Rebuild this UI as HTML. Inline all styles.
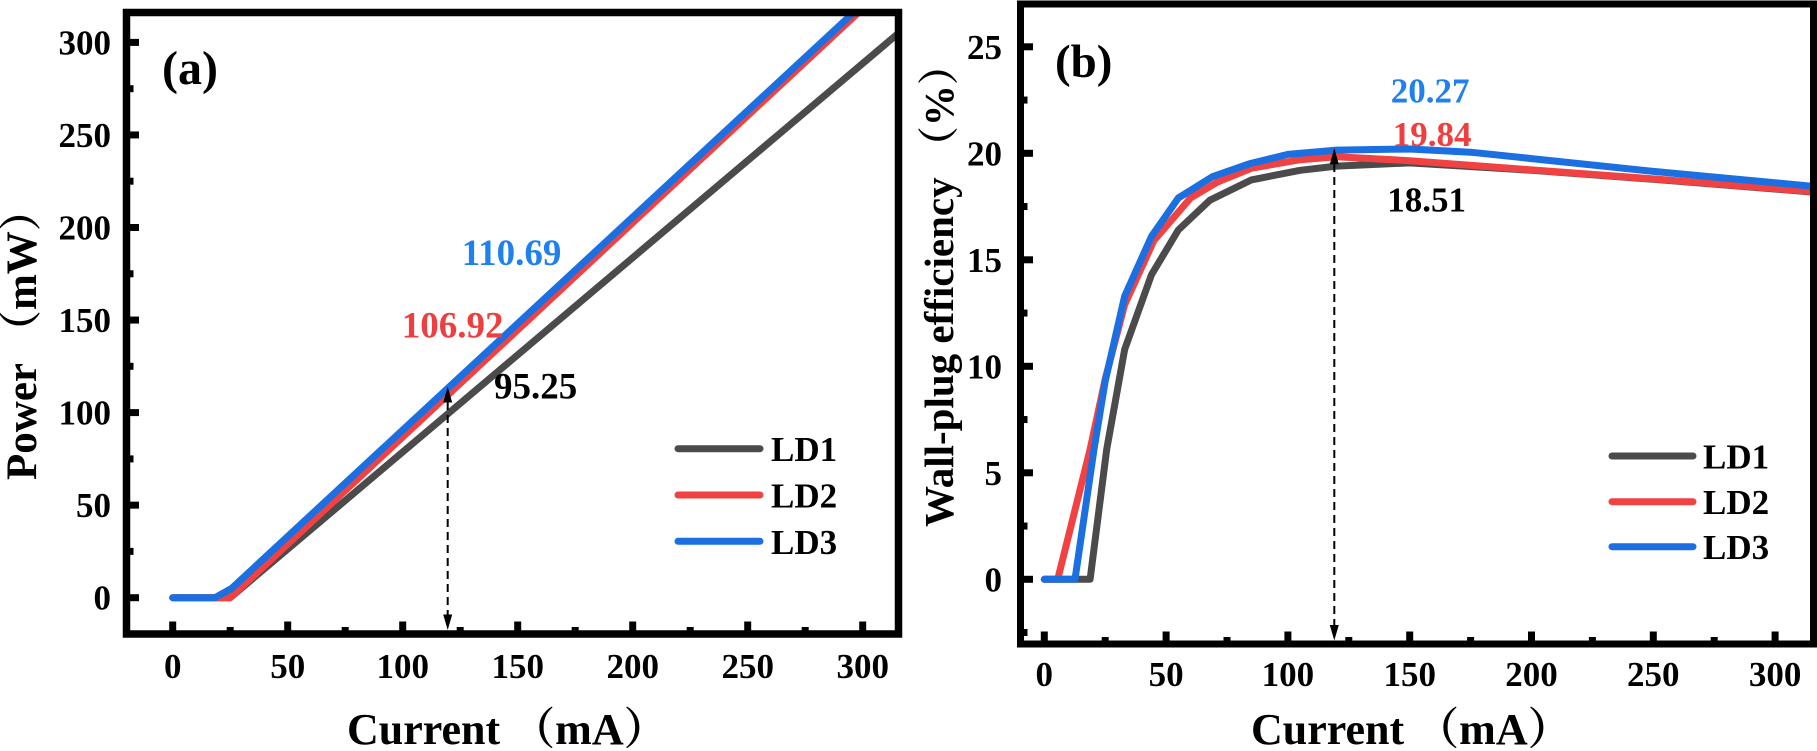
<!DOCTYPE html>
<html>
<head>
<meta charset="utf-8">
<style>
html,body{margin:0;padding:0;background:#fff;}
svg{display:block;}
text{font-family:"Liberation Serif","Noto Serif CJK SC",serif;font-weight:bold;}
.cjk{font-family:"Noto Serif CJK SC","Noto Sans CJK SC",serif;}
</style>
</head>
<body>
<svg width="1817" height="751" viewBox="0 0 1817 751" xmlns="http://www.w3.org/2000/svg">
<defs>
<clipPath id="cl"><rect x="126.5" y="12.5" width="772" height="621.5"/></clipPath>
<clipPath id="cr"><rect x="1020.5" y="4" width="793" height="640"/></clipPath>
</defs>
<rect width="1817" height="751" fill="#fff"/>

<!-- ===== LEFT PANEL ===== -->
<g clip-path="url(#cl)" fill="none" stroke-linejoin="round" stroke-linecap="round" stroke-width="7">
<polyline stroke="#4b4b4b" points="172.7,597.7 230.2,597.7 898.6,33.1"/>
<polyline stroke="#f04242" points="172.7,597.7 230.2,597.7 874.2,-2.2"/>
<polyline stroke="#1b6fe0" points="172.7,597.7 215,597.7 231.6,588.4 874.2,-6.5"/>
</g>

<!-- left arrow -->
<line x1="447.7" y1="402" x2="447.7" y2="615" stroke="#000" stroke-width="2" stroke-dasharray="8 5"/>
<polygon points="447.7,386.7 443.2,402.5 452.2,402.5" fill="#000"/>
<polygon points="447.7,630 443.2,614.5 452.2,614.5" fill="#000"/>

<!-- left frame -->
<rect x="126.5" y="12.5" width="772" height="621.5" fill="none" stroke="#000" stroke-width="7.5"/>
<g stroke="#000" stroke-width="7">
<!-- y majors -->
<line x1="130" y1="597.7" x2="139" y2="597.7"/>
<line x1="130" y1="505.15" x2="139" y2="505.15"/>
<line x1="130" y1="412.6" x2="139" y2="412.6"/>
<line x1="130" y1="320.05" x2="139" y2="320.05"/>
<line x1="130" y1="227.5" x2="139" y2="227.5"/>
<line x1="130" y1="134.95" x2="139" y2="134.95"/>
<line x1="130" y1="42.4" x2="139" y2="42.4"/>
<!-- y minors -->
<line x1="130" y1="551.4" x2="133.5" y2="551.4"/>
<line x1="130" y1="458.9" x2="133.5" y2="458.9"/>
<line x1="130" y1="366.3" x2="133.5" y2="366.3"/>
<line x1="130" y1="273.8" x2="133.5" y2="273.8"/>
<line x1="130" y1="181.2" x2="133.5" y2="181.2"/>
<line x1="130" y1="88.7" x2="133.5" y2="88.7"/>
<!-- x majors -->
<line x1="172.7" y1="630.5" x2="172.7" y2="621.5"/>
<line x1="287.7" y1="630.5" x2="287.7" y2="621.5"/>
<line x1="402.7" y1="630.5" x2="402.7" y2="621.5"/>
<line x1="517.7" y1="630.5" x2="517.7" y2="621.5"/>
<line x1="632.7" y1="630.5" x2="632.7" y2="621.5"/>
<line x1="747.7" y1="630.5" x2="747.7" y2="621.5"/>
<line x1="862.7" y1="630.5" x2="862.7" y2="621.5"/>
<!-- x minors -->
<line x1="230.2" y1="630.5" x2="230.2" y2="627"/>
<line x1="345.2" y1="630.5" x2="345.2" y2="627"/>
<line x1="460.2" y1="630.5" x2="460.2" y2="627"/>
<line x1="575.2" y1="630.5" x2="575.2" y2="627"/>
<line x1="690.2" y1="630.5" x2="690.2" y2="627"/>
<line x1="805.2" y1="630.5" x2="805.2" y2="627"/>
</g>

<g font-size="35" text-anchor="end" fill="#000">
<text x="111" y="609.7">0</text>
<text x="111" y="517.2">50</text>
<text x="111" y="424.6">100</text>
<text x="111" y="332">150</text>
<text x="111" y="239.5">200</text>
<text x="111" y="147">250</text>
<text x="111" y="54.4">300</text>
</g>
<g font-size="35" text-anchor="middle" fill="#000">
<text x="172.7" y="678">0</text>
<text x="287.7" y="678">50</text>
<text x="402.7" y="678">100</text>
<text x="517.7" y="678">150</text>
<text x="632.7" y="678">200</text>
<text x="747.7" y="678">250</text>
<text x="862.7" y="678">300</text>
</g>

<text x="347" y="744" font-size="44" fill="#000">Current <tspan class="cjk">（</tspan>mA<tspan class="cjk">）</tspan></text>
<text transform="translate(36,480) rotate(-90)" font-size="43" fill="#000">Power <tspan class="cjk">（</tspan>mW<tspan class="cjk">）</tspan></text>

<text x="162" y="84" font-size="48" fill="#000">(a)</text>

<text x="461.7" y="265" font-size="37" fill="#1f80ee">110.69</text>
<text x="401.7" y="337.3" font-size="37" fill="#ee3e3e">106.92</text>
<text x="494" y="398.3" font-size="37" fill="#000">95.25</text>

<!-- left legend -->
<g stroke-width="7" stroke-linecap="round">
<line x1="678" y1="448.7" x2="760" y2="448.7" stroke="#4b4b4b"/>
<line x1="678" y1="495" x2="760" y2="495" stroke="#f04242"/>
<line x1="678" y1="541.3" x2="760" y2="541.3" stroke="#1b6fe0"/>
</g>
<g font-size="35" fill="#000">
<text x="771" y="461.2">LD1</text>
<text x="771" y="507.5">LD2</text>
<text x="771" y="553.8">LD3</text>
</g>

<!-- ===== RIGHT PANEL ===== -->
<g clip-path="url(#cr)" fill="none" stroke-linejoin="round" stroke-linecap="round" stroke-width="7">
<polyline stroke="#4b4b4b" points="1044.3,579.3 1090.1,579.3 1106.7,449.4 1124.7,349.3 1151.5,274.7 1178.3,230 1209.9,200.2 1251.4,179.9 1300.1,170.3 1336.6,166.1 1409.7,162.9 1531.5,170.3 1653.3,179.3 1813.1,192.1"/>
<polyline stroke="#f04242" points="1044.3,579.3 1057.7,579.3 1090.1,449.4 1105.2,379.1 1124.7,304.5 1153.9,240.6 1190.5,198 1217.3,182.1 1251.4,168.2 1300.1,159.7 1336.6,156.7 1409.7,160.7 1531.5,169.9 1653.3,178.9 1813.1,191.6"/>
<polyline stroke="#1b6fe0" points="1044.3,579.3 1075,579.3 1094,449.4 1105.2,381.2 1124.7,296 1151.5,236.4 1178.3,198 1212.4,176.7 1248.9,163.9 1287.9,154.4 1336.6,150.1 1409.7,149 1470.6,152.2 1531.5,158.6 1653.3,171.4 1813.1,186.3"/>
</g>

<!-- right arrow -->
<line x1="1334.3" y1="164" x2="1334.3" y2="625" stroke="#000" stroke-width="2" stroke-dasharray="8 5"/>
<polygon points="1334.3,148.3 1329.8,164.3 1338.8,164.3" fill="#000"/>
<polygon points="1334.3,640.5 1329.8,625 1338.8,625" fill="#000"/>

<!-- right frame -->
<rect x="1020.5" y="4" width="793" height="640" fill="none" stroke="#000" stroke-width="7"/>
<g stroke="#000" stroke-width="7">
<line x1="1024" y1="579.3" x2="1033" y2="579.3"/>
<line x1="1024" y1="472.8" x2="1033" y2="472.8"/>
<line x1="1024" y1="366.3" x2="1033" y2="366.3"/>
<line x1="1024" y1="259.8" x2="1033" y2="259.8"/>
<line x1="1024" y1="153.3" x2="1033" y2="153.3"/>
<line x1="1024" y1="46.8" x2="1033" y2="46.8"/>
<line x1="1024" y1="632.5" x2="1027.5" y2="632.5"/>
<line x1="1024" y1="526.05" x2="1027.5" y2="526.05"/>
<line x1="1024" y1="419.55" x2="1027.5" y2="419.55"/>
<line x1="1024" y1="313.05" x2="1027.5" y2="313.05"/>
<line x1="1024" y1="206.55" x2="1027.5" y2="206.55"/>
<line x1="1024" y1="100.05" x2="1027.5" y2="100.05"/>
<line x1="1044.3" y1="640.5" x2="1044.3" y2="631.5"/>
<line x1="1166.1" y1="640.5" x2="1166.1" y2="631.5"/>
<line x1="1287.9" y1="640.5" x2="1287.9" y2="631.5"/>
<line x1="1409.7" y1="640.5" x2="1409.7" y2="631.5"/>
<line x1="1531.5" y1="640.5" x2="1531.5" y2="631.5"/>
<line x1="1653.3" y1="640.5" x2="1653.3" y2="631.5"/>
<line x1="1775.1" y1="640.5" x2="1775.1" y2="631.5"/>
<line x1="1105.2" y1="640.5" x2="1105.2" y2="637"/>
<line x1="1227" y1="640.5" x2="1227" y2="637"/>
<line x1="1348.8" y1="640.5" x2="1348.8" y2="637"/>
<line x1="1470.6" y1="640.5" x2="1470.6" y2="637"/>
<line x1="1592.4" y1="640.5" x2="1592.4" y2="637"/>
<line x1="1714.2" y1="640.5" x2="1714.2" y2="637"/>
</g>

<g font-size="35" text-anchor="end" fill="#000">
<text x="1002" y="591.3">0</text>
<text x="1002" y="484.8">5</text>
<text x="1002" y="378.3">10</text>
<text x="1002" y="271.8">15</text>
<text x="1002" y="165.3">20</text>
<text x="1002" y="58.8">25</text>
</g>
<g font-size="35" text-anchor="middle" fill="#000">
<text x="1044.3" y="686">0</text>
<text x="1166.1" y="686">50</text>
<text x="1287.9" y="686">100</text>
<text x="1409.7" y="686">150</text>
<text x="1531.5" y="686">200</text>
<text x="1653.3" y="686">250</text>
<text x="1775.1" y="686">300</text>
</g>

<text x="1251" y="744" font-size="44" fill="#000">Current <tspan class="cjk">（</tspan>mA<tspan class="cjk">）</tspan></text>
<text transform="translate(953,527) rotate(-90)" font-size="41" fill="#000">Wall-plug efficiency <tspan class="cjk">（</tspan>%<tspan class="cjk">）</tspan></text>

<text x="1055" y="77" font-size="47" fill="#000">(b)</text>

<text x="1390.7" y="102.7" font-size="35" fill="#1f80ee">20.27</text>
<text x="1392.7" y="146" font-size="35" fill="#ee3e3e">19.84</text>
<text x="1387.3" y="211.7" font-size="35" fill="#000">18.51</text>

<!-- right legend -->
<g stroke-width="7" stroke-linecap="round">
<line x1="1612" y1="456" x2="1693" y2="456" stroke="#4b4b4b"/>
<line x1="1612" y1="501.7" x2="1693" y2="501.7" stroke="#f04242"/>
<line x1="1612" y1="546.7" x2="1693" y2="546.7" stroke="#1b6fe0"/>
</g>
<g font-size="35" fill="#000">
<text x="1703" y="468.5">LD1</text>
<text x="1703" y="514.2">LD2</text>
<text x="1703" y="559.2">LD3</text>
</g>
</svg>
</body>
</html>
